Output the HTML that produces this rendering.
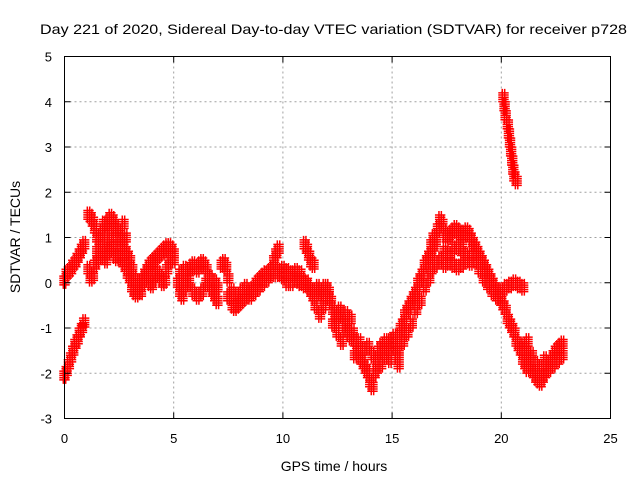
<!DOCTYPE html>
<html><head><meta charset="utf-8"><style>
html,body{margin:0;padding:0;background:#fff}
svg{display:block;font-family:"Liberation Sans",sans-serif}
</style></head><body>
<svg id="chart" width="640" height="480" viewBox="0 0 640 480" xmlns="http://www.w3.org/2000/svg">
<rect width="640" height="480" fill="#fff"/>
<text x="40" y="34" font-size="14" textLength="587" lengthAdjust="spacingAndGlyphs">Day 221 of 2020, Sidereal Day-to-day VTEC variation (SDTVAR) for receiver p728</text>
<g id="grid"></g>
<g id="marks"></g>
<rect x="64.5" y="56.5" width="546" height="362" fill="none" stroke="#000" stroke-width="1"/>
<g id="ticks"></g>
<text x="334" y="471" font-size="14" text-anchor="middle">GPS time / hours</text>
<text x="20" y="237" font-size="14" text-anchor="middle" transform="rotate(-90 20 237)">SDTVAR / TECUs</text>
</svg>
<script>
const xTicks=[0,5,10,15,20,25];
const yTicks=[-3,-2,-1,0,1,2,3,4,5];
const track1=[[0,-2.05],[0.1,-1.95],[0.2,-1.8],[0.3,-1.65],[0.4,-1.5],[0.5,-1.35],[0.6,-1.25],[0.7,-1.1],[0.8,-1.0],[0.9,-0.88]];
const track2=[[0,0.05],[0.1,0.2],[0.2,0.25],[0.3,0.3],[0.4,0.4],[0.5,0.45],[0.6,0.55],[0.7,0.65],[0.8,0.75],[0.9,0.85]];
const track3=[[1.1,1.5],[1.2,1.45],[1.3,1.35],[1.4,1.2],[1.5,1.0],[1.6,0.9],[1.7,1.1],[1.8,1.3],[1.9,1.25],[2.0,1.35],[2.1,1.45],[2.2,1.4],[2.3,1.3],[2.4,1.2],[2.5,1.1],[2.6,0.9],[2.7,0.8],[2.8,0.7],[2.9,0.6],[3.0,0.5],[3.1,0.3],[3.2,0.1],[3.3,0.0],[3.4,-0.1],[3.5,-0.2],[3.6,0.0],[3.7,0.15],[3.8,0.3],[3.9,0.4],[4.0,0.45],[4.1,0.5],[4.2,0.55],[4.3,0.6],[4.4,0.65],[4.5,0.7],[4.6,0.75],[4.7,0.8],[4.8,0.8],[4.9,0.75],[5.0,0.65]];
const track4=[[1.1,0.3],[1.2,0.1],[1.3,0.15],[1.4,0.4],[1.5,0.5],[1.6,0.6],[1.7,0.7],[1.8,0.6],[1.9,0.5],[2.0,0.7],[2.1,0.8],[2.2,0.75],[2.3,0.6],[2.4,0.55],[2.5,0.6],[2.6,0.55],[2.7,0.45],[2.8,0.35],[2.9,0.2],[3.0,0.1],[3.1,-0.1],[3.2,-0.2],[3.3,-0.25],[3.4,-0.15],[3.5,0.0],[3.6,0.1],[3.7,0.2],[3.8,0.1],[3.9,0.0],[4.0,-0.05],[4.1,0.1],[4.2,0.25],[4.3,0.2],[4.4,0.1],[4.5,0.0],[4.6,0.05],[4.7,0.3],[4.8,0.5],[4.9,0.6],[5.0,0.5],[1.5,0.7],[1.7,0.9],[1.9,0.9],[2.1,1.1],[2.3,1.0],[2.5,0.85],[2.7,1.0],[2.8,1.0],[2.7,1.3]];
const track5=[[5.2,0.0],[5.3,-0.2],[5.4,-0.3],[5.5,-0.1],[5.6,0.1],[5.7,0.25],[5.8,0.35],[5.9,0.4],[6.0,0.35],[6.1,0.3],[6.2,0.4],[6.3,0.45],[6.4,0.4],[6.5,0.3],[6.6,0.1],[6.7,-0.1],[6.8,-0.2],[6.9,-0.3],[7.0,-0.4],[5.3,0.2],[5.5,0.3],[5.7,0.0],[5.9,-0.2],[6.1,-0.3],[6.3,-0.2],[6.5,0.0],[6.7,0.1],[6.9,0.0],[7.0,-0.1]];
const track6=[[7.2,0.4],[7.3,0.45],[7.4,0.35],[7.5,0.1],[7.6,-0.3],[7.7,-0.5],[7.8,-0.55],[7.9,-0.5],[8.0,-0.45],[8.1,-0.4],[8.2,-0.35],[8.3,-0.3],[8.4,-0.25],[8.5,-0.2],[8.6,-0.15],[8.7,-0.1],[8.8,0.0],[8.9,0.05],[9.0,0.1],[9.1,0.15],[9.2,0.2],[9.3,0.2],[9.4,0.25],[9.5,0.3],[9.6,0.5],[9.7,0.65],[9.8,0.75],[7.5,-0.3],[7.7,-0.2],[7.9,-0.3],[8.1,-0.2],[8.3,-0.1],[8.5,-0.3],[8.7,-0.2],[8.9,-0.1],[9.1,0.0],[9.3,0.1],[9.5,0.2],[9.7,0.2],[9.9,0.2],[10.0,0.15],[10.1,0.2],[10.2,0.25],[10.3,0.2],[10.4,0.15],[10.5,0.2],[10.6,0.1],[10.7,0.05],[10.8,0.0],[10.9,0.05],[9.8,0.25],[10.0,0.3],[10.2,0.0],[10.4,0.0],[10.6,0.25],[10.8,0.2]];
const track7=[[11.0,0.85],[11.1,0.75],[11.2,0.6],[11.3,0.45],[11.4,0.4]];
const track8=[[11.0,-0.05],[11.1,0.0],[11.2,-0.1],[11.3,-0.2],[11.4,-0.3],[11.5,-0.2],[11.6,-0.1],[11.7,-0.2],[11.8,-0.3],[11.9,-0.1],[12.0,-0.1],[12.1,-0.2],[12.2,-0.4],[12.3,-0.6],[12.4,-0.7],[12.5,-0.8],[12.6,-0.6],[12.7,-0.7],[12.8,-0.9],[12.9,-1.0],[13.0,-1.1],[13.1,-1.2],[13.2,-1.1],[13.3,-1.3],[13.4,-1.5],[13.5,-1.6],[13.6,-1.7],[13.7,-1.8],[13.8,-1.9],[13.9,-2.0],[14.0,-2.2],[14.1,-2.3],[14.2,-2.0],[14.3,-1.7],[14.4,-1.5],[14.5,-1.4],[14.6,-1.5],[14.7,-1.6],[14.8,-1.4],[14.9,-1.3],[15.0,-1.3],[15.1,-1.4],[15.2,-1.6],[15.3,-1.5],[11.5,-0.5],[11.7,-0.7],[11.9,-0.5],[12.1,-0.3],[12.3,-0.9],[12.5,-1.1],[12.7,-1.3],[12.9,-0.7],[13.1,-0.8],[13.3,-1.6],[13.5,-1.3],[13.7,-1.5],[13.9,-1.4],[14.1,-1.6],[14.3,-1.9],[14.5,-1.8],[14.7,-1.3],[14.9,-1.7],[15.1,-1.2],[15.3,-1.8]];
const track9=[[15.3,-1.2],[15.4,-1.0],[15.5,-0.9],[15.6,-0.7],[15.7,-0.6],[15.8,-0.5],[15.9,-0.4],[16.0,-0.3],[16.1,-0.2],[16.2,0.0],[16.3,0.1],[16.4,0.2],[16.5,0.4],[16.6,0.5],[16.7,0.6],[16.8,0.7],[16.9,0.8],[17.0,1.0],[17.1,1.2],[17.2,1.4],[17.3,1.3],[17.4,1.1],[17.5,1.0],[17.6,1.05],[17.7,1.1],[17.8,1.15],[17.9,1.2],[18.0,1.15],[18.1,1.1],[18.2,1.05],[18.3,1.1],[18.4,1.15],[18.5,1.1],[18.6,1.0],[18.7,0.9],[18.8,0.8],[18.9,0.7],[19.0,0.6],[19.1,0.5],[19.2,0.4],[19.3,0.3],[19.4,0.2],[19.5,0.1],[19.6,0.0],[19.7,-0.1],[19.8,-0.2],[19.9,-0.3],[20.0,-0.4],[20.1,-0.5],[20.2,-0.6],[20.3,-0.8],[20.4,-0.9],[20.5,-1.0],[20.6,-1.1],[20.7,-1.3],[20.8,-1.4],[20.9,-1.5],[21.0,-1.7],[21.1,-1.8],[21.2,-1.9]];
const track9b=[[15.3,-1.6],[15.5,-1.3],[15.7,-1.1],[15.9,-0.9],[16.1,-0.6],[16.3,-0.4],[16.5,-0.1],[16.7,0.1],[16.8,0.3],[17.0,0.4],[17.2,0.5],[17.4,0.4],[17.6,0.45],[17.8,0.4],[18.0,0.35],[18.2,0.4],[18.4,0.5],[18.6,0.6],[18.8,0.5],[19.0,0.3],[19.2,0.1],[19.4,-0.05],[19.6,-0.2],[19.8,-0.3],[20.0,-0.2],[20.2,-0.1],[20.4,-0.05],[20.6,0.0],[20.8,-0.05],[21.0,-0.1],[16.8,0.85],[17.0,0.9],[17.4,0.7],[17.6,0.6],[17.8,0.75],[18.0,0.8],[18.2,0.7],[18.4,0.6],[18.6,0.45],[18.2,0.85],[16.9,1.0]];
const track10=[[21.0,-1.4],[21.1,-1.5],[21.2,-1.7],[21.3,-1.8],[21.4,-1.9],[21.5,-2.0],[21.6,-2.1],[21.7,-2.15],[21.8,-2.2],[21.9,-2.1],[22.0,-2.0],[22.1,-1.9],[22.2,-1.8],[22.3,-1.7],[22.4,-1.6],[22.5,-1.5],[22.6,-1.45],[22.7,-1.4],[22.8,-1.35],[21.2,-1.3],[21.3,-1.6],[21.4,-1.6],[21.6,-1.8],[21.8,-1.9],[22.0,-1.7],[22.2,-1.9],[22.4,-1.8],[22.6,-1.7],[22.8,-1.6]];
const spike=[[20.1,4.1],[20.15,3.9],[20.2,3.7],[20.3,3.5],[20.35,3.3],[20.4,3.1],[20.45,2.9],[20.5,2.7],[20.55,2.5],[20.6,2.35],[20.7,2.25]];

const X0=64.5,X1=610.5,Y0=418.5,Y1=56.5;
function xs(h){return X0+(h-0)/(25-0)*(X1-X0);}
function ys(v){return Y0-(v+3)/(5+3)*(Y0-Y1);}
const NS="http://www.w3.org/2000/svg";
const grid=document.getElementById('grid'),ticks=document.getElementById('ticks'),marks=document.getElementById('marks');
function mk(tag,attrs,parent){const e=document.createElementNS(NS,tag);for(const k in attrs)e.setAttribute(k,attrs[k]);parent.appendChild(e);return e;}
xTicks.forEach(t=>{
  const x=xs(t);
  if(t>0&&t<25){const g=mk('line',{x1:x,x2:x,y1:Y1,y2:Y0,stroke:'#a0a0a0','stroke-dasharray':'2,3'},grid);
  
  }
  const a=mk('line',{x1:x,x2:x,y1:Y0,y2:Y0-6,stroke:'#000'},ticks);
  const b=mk('line',{x1:x,x2:x,y1:Y1,y2:Y1+6,stroke:'#000'},ticks);
  const l=mk('text',{x:x,y:443,'font-size':13,'text-anchor':'middle'},ticks);l.textContent=t;
  
  
});
yTicks.forEach(t=>{
  const y=ys(t);
  if(t>-3&&t<5){const g=mk('line',{x1:X0,x2:X1,y1:y,y2:y,stroke:'#a0a0a0','stroke-dasharray':'2,3'},grid);
  
  }
  const a=mk('line',{x1:X0,x2:X0+6,y1:y,y2:y,stroke:'#000'},ticks);
  const b=mk('line',{x1:X1,x2:X1-6,y1:y,y2:y,stroke:'#000'},ticks);
  const l=mk('text',{x:52,y:y+5,'font-size':13,'text-anchor':'end'},ticks);l.textContent=t;
  
  
});
let d='';
[track1,track2,track3,track4,track5,track6,track7,track8,track9,track9b,track10,spike].forEach(tr=>{
  tr.forEach(p=>{const x=xs(p[0]),y=ys(p[1]);
    for(let j=-2;j<=2;j++){for(let i=-1;i<=1;i+=2){const yy=y+j*2.2,xx=x+i*1.2;d+=`M${xx-4},${yy}h8M${xx},${yy-4}v8`;}}
  });
});
const path=mk('path',{d:d,stroke:'#ff0000','stroke-width':1.5,fill:'none'},marks);


</script>
</body></html>
